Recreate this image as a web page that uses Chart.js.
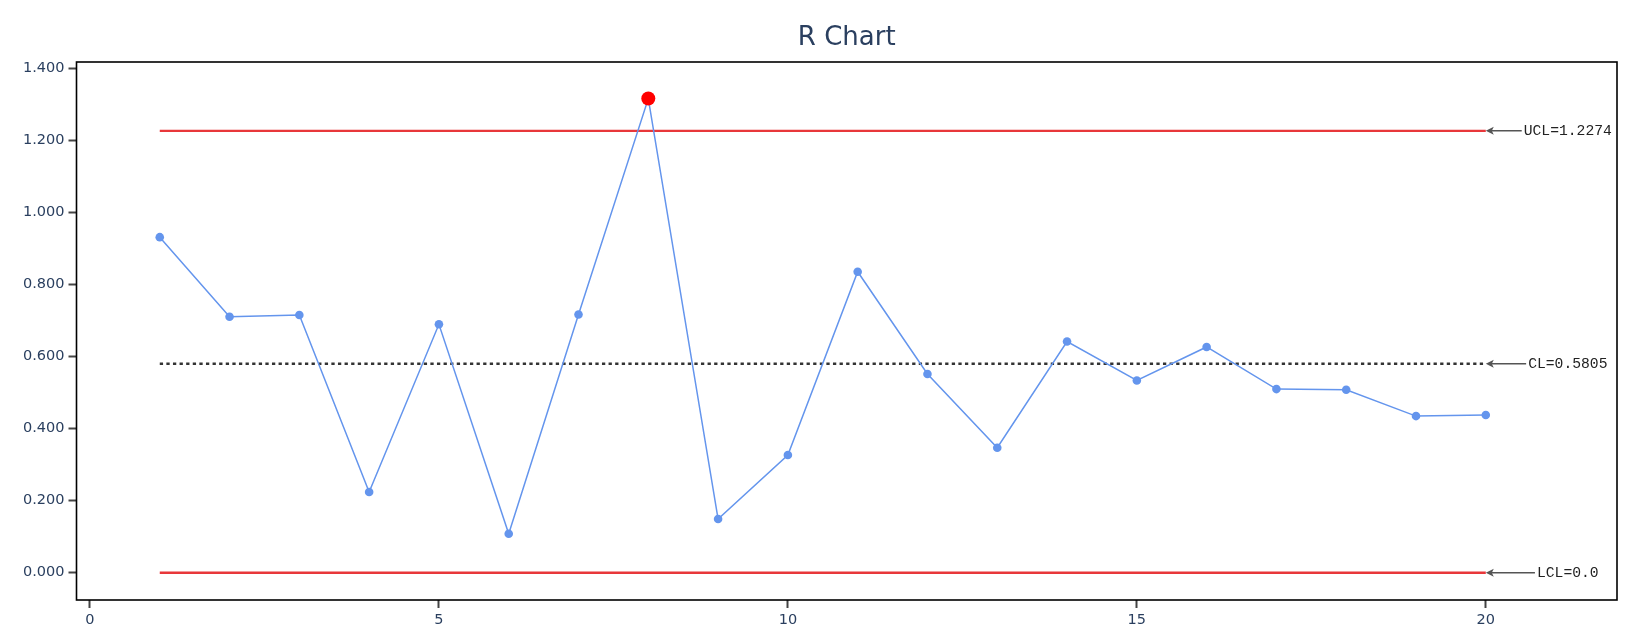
<!DOCTYPE html>
<html>
<head>
<meta charset="utf-8">
<title>R Chart</title>
<script src="https://cdn.jsdelivr.net/npm/chart.js@4"></script>
<style>
    html, body { margin: 0; padding: 0; background: #fff; }
    canvas { display: block; }
</style>
</head>
<body>
<canvas id="rchart" width="1645" height="639"></canvas>
<script>
"use strict";

// chart data
var chartTitle = "R Chart";
var samples = [1, 2, 3, 4, 5, 6, 7, 8, 9, 10, 11, 12, 13, 14, 15, 16, 17, 18, 19, 20];
var rValues = [0.932, 0.711, 0.716, 0.224, 0.690, 0.108, 0.717, 1.317, 0.149, 0.327,
               0.836, 0.552, 0.347, 0.642, 0.534, 0.627, 0.510, 0.508, 0.435, 0.438];
var outOfControl = [8];
var limitX = [1, 20];
var limitValues = [1.2274, 0.5805, 0.0];
var limitLabels = ["UCL=1.2274", "CL=0.5805", "LCL=0.0"];
var xTicks = [0, 5, 10, 15, 20];
var yTicks = [0, 0.2, 0.4, 0.6, 0.8, 1.0, 1.2, 1.4];

var tickFont = { family: "Verdana, 'DejaVu Sans', sans-serif", size: 14.5 };
var textColor = "#2a3f5f";

function points(xs, ys) {
    return xs.map(function(x, i) { return { x: x, y: ys[i] }; });
}
function flat(xs, v) {
    return xs.map(function(x) { return { x: x, y: v }; });
}

// full box round the plot + title
var frame = {
    id: "frame",
    beforeDatasetsDraw: function(chart) {
        var a = chart.chartArea, ctx = chart.ctx;
        ctx.save();
        ctx.strokeStyle = "#000";
        ctx.lineWidth = 1.6;
        ctx.strokeRect(a.left, a.top, a.right - a.left, a.bottom - a.top);
        ctx.fillStyle = textColor;
        ctx.font = "26px Verdana, 'DejaVu Sans', sans-serif";
        ctx.textAlign = "center";
        ctx.textBaseline = "alphabetic";
        ctx.fillText(chartTitle, (a.left + a.right) / 2, 45);
        ctx.restore();
    }
};

// arrows with the limit labels at the right end
var limitNotes = {
    id: "limitNotes",
    afterDatasetsDraw: function(chart) {
        var ctx = chart.ctx;
        var xs = chart.scales.x, ys = chart.scales.y;
        var tipX = xs.getPixelForValue(limitX[limitX.length - 1]);
        ctx.save();
        ctx.font = "14.7px 'Liberation Mono', 'Courier New', monospace";
        ctx.textBaseline = "middle";
        ctx.textAlign = "center";
        limitValues.forEach(function(v, i) {
            var y = ys.getPixelForValue(v);
            var cx = tipX + 82;
            var w = ctx.measureText(limitLabels[i]).width;
            var startX = cx - w / 2 - 2;
            ctx.strokeStyle = "#555";
            ctx.fillStyle = "#555";
            ctx.lineWidth = 1.5;
            ctx.beginPath();
            ctx.moveTo(startX, y);
            ctx.lineTo(tipX + 4, y);
            ctx.stroke();
            ctx.beginPath();
            ctx.moveTo(tipX, y);
            ctx.lineTo(tipX + 8, y - 4);
            ctx.lineTo(tipX + 6, y);
            ctx.lineTo(tipX + 8, y + 4);
            ctx.closePath();
            ctx.fill();
            ctx.fillStyle = "#222";
            ctx.fillText(limitLabels[i], cx, y);
        });
        ctx.restore();
    }
};

var limitColors = ["rgb(232,55,58)", "#333", "rgb(232,55,58)"];
var limitSets = limitValues.map(function(v, i) {
    return {
        data: flat(limitX, v),
        borderColor: limitColors[i],
        borderWidth: 2.4,
        borderDash: i === 1 ? [3.3, 3.3] : [],
        pointRadius: 0,
        order: 3
    };
});

var redPoints = outOfControl.map(function(s) {
    return { x: s, y: rValues[samples.indexOf(s)] };
});

var datasets = [
    {
        data: redPoints,
        showLine: false,
        pointRadius: 7,
        pointBackgroundColor: "red",
        pointBorderWidth: 0,
        order: 1
    },
    {
        data: points(samples, rValues),
        borderColor: "#6495ED",
        borderWidth: 1.5,
        pointRadius: 4.3,
        pointBackgroundColor: "#6495ED",
        pointBorderWidth: 0,
        order: 2
    }
].concat(limitSets);

new Chart(document.getElementById("rchart").getContext("2d"), {
    type: "line",
    data: { datasets: datasets },
    options: {
        responsive: false,
        animation: false,
        devicePixelRatio: 1,
        layout: { padding: { top: 62, right: 28, left: 0, bottom: 0 } },
        plugins: { legend: { display: false }, tooltip: { enabled: false }, title: { display: false } },
        scales: {
            x: {
                type: "linear",
                min: -0.193,
                max: 21.88,
                afterBuildTicks: function(s) { s.ticks = xTicks.map(function(v) { return { value: v }; }); },
                afterFit: function(s) { s.height = 39; },
                border: { display: false },
                grid: { display: true, drawOnChartArea: false, tickLength: 8, tickColor: "#444", tickWidth: 2 },
                ticks: { color: textColor, font: tickFont, padding: 4, maxRotation: 0 }
            },
            y: {
                type: "linear",
                min: -0.0759,
                max: 1.4186,
                afterBuildTicks: function(s) { s.ticks = yTicks.map(function(v) { return { value: v }; }); },
                afterFit: function(s) { s.width = 76.5; },
                border: { display: false },
                grid: { display: true, drawOnChartArea: false, tickLength: 8, tickColor: "#444", tickWidth: 2 },
                ticks: {
                    color: textColor, font: tickFont, padding: 4,
                    callback: function(v) { return Number(v).toFixed(3); }
                }
            }
        }
    },
    plugins: [frame, limitNotes]
});
</script>
</body>
</html>
